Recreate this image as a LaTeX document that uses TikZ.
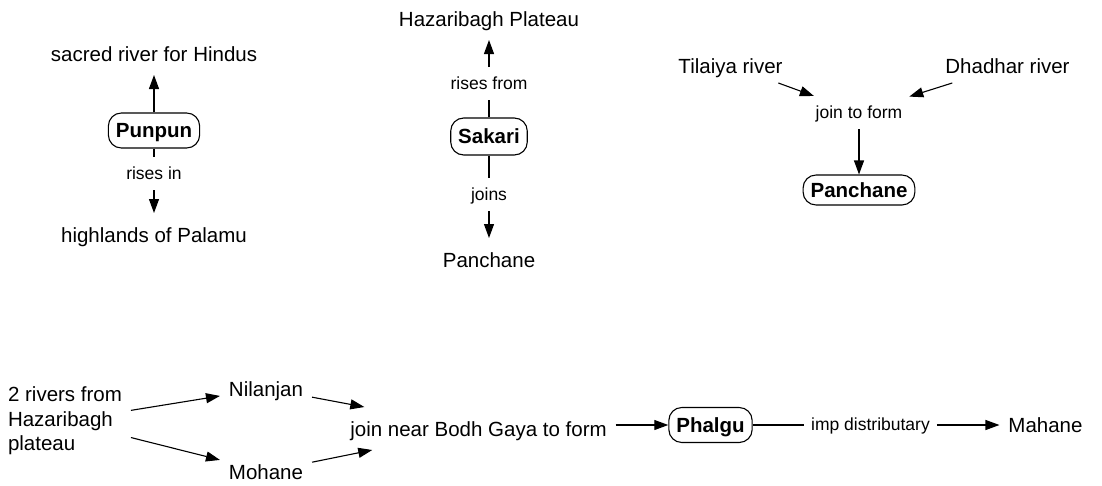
\documentclass[tikz,border=0pt]{standalone}
\usepackage{fontspec}
\setmainfont{Liberation Sans}
\usetikzlibrary{arrows.meta}

\begin{document}
\begin{tikzpicture}[x=1pt,y=-1pt,
  ctext/.style={inner sep=0pt,outer sep=9pt,font=\fontsize{20.5}{24.5}\selectfont},
  concept/.style={ctext,text height=20pt,text depth=5pt},
  linkph/.style={inner sep=0pt,outer sep=7pt,text height=15pt,text depth=4pt,font=\fontsize{17.5}{21}\selectfont},
  rbox/.style={draw,line width=1.1pt,rounded corners=13pt,inner xsep=7.5pt,inner ysep=0pt,
    minimum height=35pt,text height=14pt,text depth=0pt,font=\fontsize{20.5}{24.5}\selectfont\bfseries},
  link/.style={line width=1.1pt},
  arr/.style={line width=1.1pt,-{Triangle[length=14pt,width=10pt]}}]
  \useasboundingbox (0,0) rectangle (1102,485);

  % Punpun
  \node[concept] (sacred) at (154,53.5) {sacred river for Hindus};
  \node[rbox] (punpun) at (154,130.5) {Punpun};
  \node[linkph] (risesin) at (154,173.5) {rises in};
  \node[concept] (palamu) at (154,234.5) {highlands of Palamu};

  % Sakari
  \node[concept] (hazari) at (489,18.5) {Hazaribagh Plateau};
  \node[linkph] (risesfrom) at (489,83.5) {rises from};
  \node[rbox,minimum height=37pt] (sakari) at (489,136.5) {Sakari};
  \node[linkph] (joins) at (489,194.5) {joins};
  \node[concept] (panch) at (489,259.5) {Panchane};

  % Panchane
  \node[concept,outer sep=5pt] (tilaiya) at (730.5,65.5) {Tilaiya river};
  \node[concept,outer sep=5pt] (dhadhar) at (1007.5,65.5) {Dhadhar river};
  \node[linkph] (jointo) at (859,112.5) {join to form};
  \node[rbox,minimum height=30pt] (panchane) at (859,190) {Panchane};

  % Phalgu
  \node[ctext,align=left] (rivers) at (65,421) {2 rivers from\\Hazaribagh\\plateau};
  \node[concept] (nilanjan) at (266,388.5) {Nilanjan};
  \node[concept] (mohane) at (266,471.5) {Mohane};
  \node[concept] (joinnear) at (478.5,428.5) {join near Bodh Gaya to form};
  \node[rbox] (phalgu) at (710.5,425) {Phalgu};
  \node[linkph] (imp) at (870.5,425) {imp distributary};
  \node[concept] (mahane) at (1045.5,425) {Mahane};

  \draw[arr] (punpun) -- (sacred);
  \draw[link] (punpun) -- (risesin);
  \draw[arr] (risesin) -- (palamu);

  \draw[link] (sakari) -- (risesfrom);
  \draw[arr] (risesfrom) -- (hazari);
  \draw[link] (sakari) -- (joins);
  \draw[arr] (joins) -- (panch);

  \draw[arr] (tilaiya) -- (jointo);
  \draw[arr] (dhadhar) -- (jointo);
  \draw[arr] (jointo) -- (panchane);

  \draw[arr] (rivers) -- (nilanjan);
  \draw[arr] (rivers) -- (mohane);
  \draw[arr] (nilanjan) -- (joinnear);
  \draw[arr] (mohane) -- (joinnear);
  \draw[arr] (joinnear.east |- phalgu) -- (phalgu);
  \draw[link] (phalgu) -- (imp);
  \draw[arr] (imp) -- (mahane);
\end{tikzpicture}
\end{document}
